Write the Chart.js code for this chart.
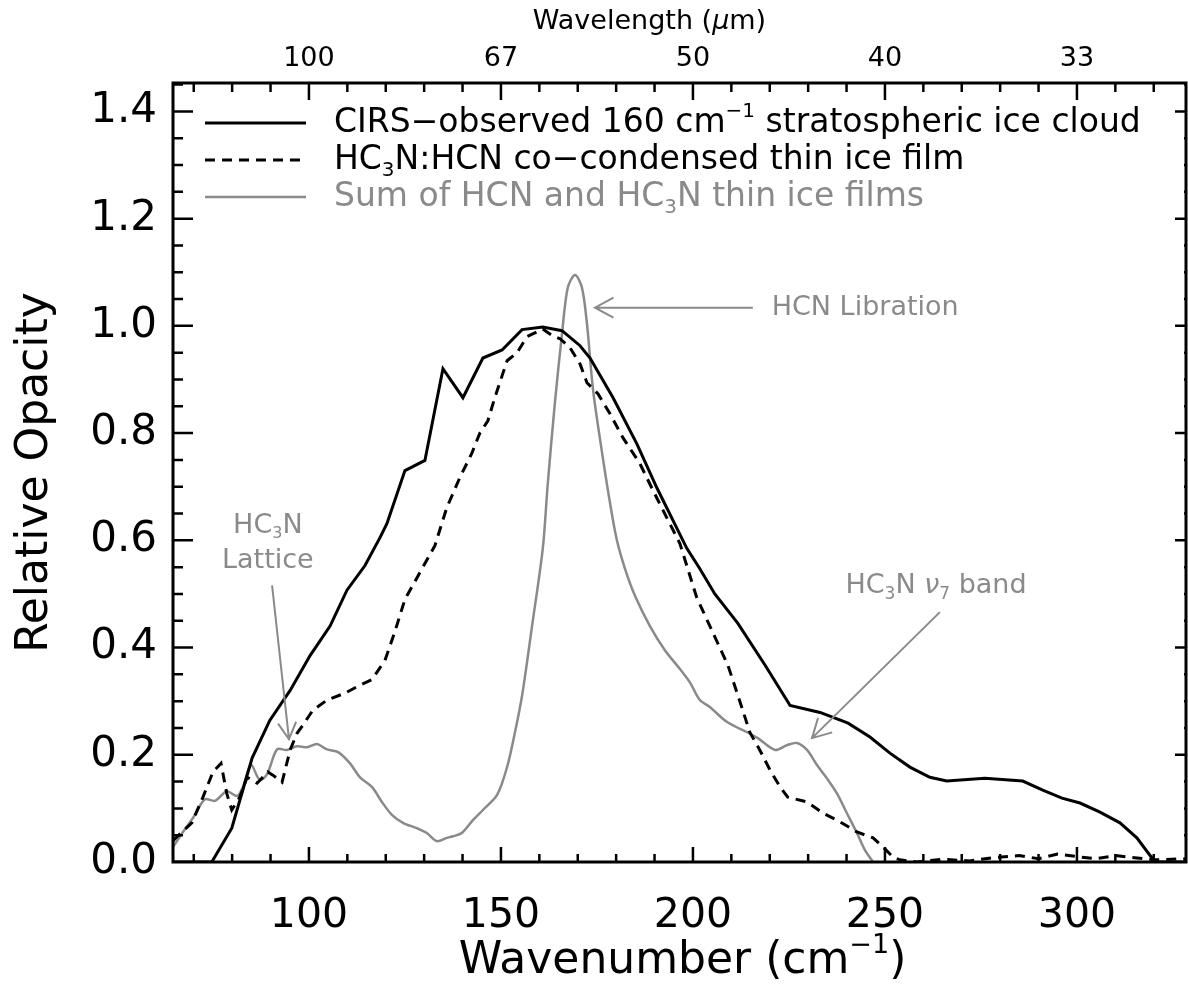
<!DOCTYPE html>
<html lang="en">
<head>
<meta charset="UTF-8">
<title>Relative Opacity - Titan stratospheric ice cloud</title>
<script src="https://cdn.jsdelivr.net/npm/chart.js"></script>
<style>
  html, body { margin: 0; padding: 0; background: #fff; }
  #wrap { width: 1188px; height: 998px; }
</style>
</head>
<body>
<div id="wrap"><canvas id="chart" width="1188" height="998"></canvas></div>
<script>
// CIRS-observed 160 cm-1 stratospheric ice cloud (solid black)
const cirsWn  = [64.6, 74.7, 79.9, 85.2, 89.8, 95.1, 100.3, 105.5, 109.9, 114.6, 118.5, 120.3, 125.0, 130.2, 134.9, 140.1, 145.3, 150.3, 155.5, 160.9, 165.9, 170.6, 173.2, 179.2, 185.4, 190.6, 198.4, 201.8, 205.7, 211.7, 218.8, 225.3, 233.1, 240.4, 246.1, 251.3, 256.5, 261.7, 266.1, 276.0, 285.9, 291.1, 296.1, 300.8, 306.0, 311.2, 315.6, 320.3, 328.4];
const cirsVal = [0, 0, 0.063, 0.194, 0.264, 0.32, 0.385, 0.44, 0.507, 0.553, 0.605, 0.631, 0.730, 0.749, 0.920, 0.866, 0.940, 0.955, 0.993, 0.998, 0.991, 0.963, 0.940, 0.866, 0.780, 0.698, 0.585, 0.547, 0.50, 0.445, 0.367, 0.292, 0.279, 0.259, 0.233, 0.203, 0.177, 0.158, 0.151, 0.156, 0.151, 0.134, 0.119, 0.110, 0.093, 0.073, 0.045, 0.0, 0.0];

// HC3N:HCN co-condensed thin ice film (dashed black)
const filmWn  = [64.6, 69.5, 72.4, 75.0, 77.1, 78.6, 79.9, 82.0, 83.9, 86.5, 89.3, 90.6, 93.0, 95.1, 96.9, 98.4, 101.0, 104.7, 109.4, 113.3, 116.4, 119.8, 122.4, 125.0, 128.9, 132.8, 135.9, 139.3, 142.4, 144.5, 146.6, 148.4, 151.6, 154.2, 156.8, 160.9, 163.5, 165.4, 168.0, 170.6, 172.4, 175.3, 178.4, 181.8, 186.2, 189.6, 193.2, 196.6, 201.0, 205.7, 209.1, 212.8, 214.8, 217.4, 220.1, 222.7, 224.7, 229.7, 233.9, 238.3, 242.7, 246.9, 249.5, 252.1, 253.9, 258.3, 265, 272, 278, 285, 290, 295, 300, 305, 310, 315, 320, 328.4];
const filmVal = [0.04, 0.073, 0.121, 0.168, 0.184, 0.128, 0.097, 0.121, 0.158, 0.147, 0.168, 0.162, 0.149, 0.209, 0.24, 0.255, 0.283, 0.302, 0.315, 0.33, 0.34, 0.376, 0.43, 0.49, 0.54, 0.59, 0.661, 0.717, 0.762, 0.80, 0.823, 0.866, 0.935, 0.95, 0.98, 0.994, 0.981, 0.976, 0.959, 0.929, 0.894, 0.873, 0.836, 0.791, 0.743, 0.693, 0.642, 0.594, 0.493, 0.42, 0.367, 0.287, 0.242, 0.209, 0.171, 0.14, 0.121, 0.112, 0.091, 0.075, 0.056, 0.045, 0.028, 0.009, 0.004, 0.0, 0.005, 0.002, 0.008, 0.012, 0.006, 0.015, 0.01, 0.006, 0.012, 0.008, 0.004, 0.006];

// Sum of HCN and HC3N thin ice films (gray)
const sumWn  = [64.6, 67.2, 69.8, 72.9, 75.5, 78.6, 81.3, 82.8, 84.9, 87.2, 89.1, 91.7, 94.3, 96.9, 99.5, 102.1, 104.7, 107.6, 110.7, 113.3, 116.4, 119.0, 121.6, 124.5, 128.1, 130.7, 133.3, 135.9, 137.5, 139.8, 142.7, 145.3, 149.0, 151.6, 153.6, 155.5, 158.1, 160.9, 162.2, 164.1, 165.9, 167.4, 169.3, 171.1, 172.4, 174.0, 176.3, 178.4, 180.2, 182.4, 185.0, 188.8, 192.7, 196.6, 199.2, 201.8, 204.4, 208.9, 214.1, 216.9, 221.4, 224.5, 227.1, 229.7, 232.3, 234.9, 237.5, 240.1, 242.7, 244.8, 246.9];
const sumVal = [0.028, 0.056, 0.082, 0.117, 0.114, 0.132, 0.123, 0.14, 0.181, 0.153, 0.164, 0.21, 0.209, 0.216, 0.214, 0.22, 0.21, 0.205, 0.184, 0.158, 0.14, 0.112, 0.088, 0.073, 0.063, 0.054, 0.039, 0.045, 0.048, 0.054, 0.078, 0.097, 0.125, 0.177, 0.24, 0.31, 0.44, 0.585, 0.706, 0.86, 0.985, 1.071, 1.095, 1.071, 1.004, 0.88, 0.765, 0.67, 0.60, 0.545, 0.495, 0.44, 0.395, 0.36, 0.335, 0.302, 0.289, 0.261, 0.242, 0.231, 0.209, 0.218, 0.222, 0.209, 0.181, 0.156, 0.128, 0.091, 0.054, 0.022, 0];

// axes
const xTicks = [100, 150, 200, 250, 300];
const topTickLabels = ['100', '67', '50', '40', '33'];
const yTicks = [0, 0.2, 0.4, 0.6, 0.8, 1.0, 1.2, 1.4];

const FONT = 'DejaVu Sans';
const GRAY = '#8a8a8a';

function pts(xs, ys) {
    return xs.map((x, i) => ({ x: x, y: ys[i] }));
}

// text with sub/superscripts and italics: parts = [[text, kind], ...]
function drawRich(ctx, parts, x, y, size, color, align) {
    const fontFor = k => (k === 'it' ? 'italic ' : '') +
        Math.round(k === 'sub' || k === 'sup' ? size * 0.62 : size) + 'px "' + FONT + '"';
    let w = 0;
    parts.forEach(([t, k]) => { ctx.font = fontFor(k); w += ctx.measureText(t).width; });
    let cx = align === 'center' ? x - w / 2 : (align === 'right' ? x - w : x);
    ctx.fillStyle = color;
    ctx.textAlign = 'left';
    ctx.textBaseline = 'middle';
    parts.forEach(([t, k]) => {
        ctx.font = fontFor(k);
        const dy = k === 'sub' ? size * 0.32 : (k === 'sup' ? -size * 0.36 : 0);
        ctx.fillText(t, cx, y + dy);
        cx += ctx.measureText(t).width;
    });
    return w;
}

function arrow(ctx, x0, y0, x1, y1, head, color) {
    const ang = Math.atan2(y1 - y0, x1 - x0);
    ctx.strokeStyle = color;
    ctx.lineWidth = 2;
    ctx.beginPath();
    ctx.moveTo(x0, y0);
    ctx.lineTo(x1, y1);
    const a = 0.5;
    ctx.moveTo(x1 - head * Math.cos(ang - a), y1 - head * Math.sin(ang - a));
    ctx.lineTo(x1, y1);
    ctx.lineTo(x1 - head * Math.cos(ang + a), y1 - head * Math.sin(ang + a));
    ctx.stroke();
}

const frame = {
    id: 'frame',
    afterDatasetsDraw(chart) {
        const { ctx, chartArea: a, scales } = chart;
        const sx = scales.x, sy = scales.y;
        ctx.save();

        // box
        ctx.strokeStyle = '#000';
        ctx.lineWidth = 3;
        ctx.strokeRect(a.left, a.top, a.right - a.left, a.bottom - a.top);

        // x ticks, every 10 cm-1, major every 50
        ctx.lineWidth = 2.5;
        ctx.beginPath();
        for (let v = 70; v <= 320; v += 10) {
            const px = sx.getPixelForValue(v);
            const major = v % 50 === 0;
            ctx.moveTo(px, a.bottom);
            ctx.lineTo(px, a.bottom - (major ? 15 : 8));
            ctx.moveTo(px, a.top);
            ctx.lineTo(px, a.top + (major ? 17 : 9));
        }
        // y ticks, every 0.05, major every 0.2
        for (let i = 1; i <= 29; i++) {
            const py = sy.getPixelForValue(i * 0.05);
            const major = i % 4 === 0;
            ctx.moveTo(a.left, py);
            ctx.lineTo(a.left + (major ? 20 : 10), py);
            ctx.moveTo(a.right, py);
            ctx.lineTo(a.right - (major ? 11 : 2), py);
        }
        ctx.stroke();

        // legend
        const rows = [
            { y: 123, color: '#000', dash: [], parts: [['CIRS\u2212observed 160 cm', ''], ['\u22121', 'sup'], [' stratospheric ice cloud', '']] },
            { y: 160, color: '#000', dash: [10, 7], parts: [['HC', ''], ['3', 'sub'], ['N:HCN co\u2212condensed thin ice film', '']] },
            { y: 197, color: GRAY, dash: [], parts: [['Sum of HCN and HC', ''], ['3', 'sub'], ['N thin ice films', '']] }
        ];
        rows.forEach(r => {
            ctx.strokeStyle = r.color;
            ctx.lineWidth = r.color === GRAY ? 2.5 : 3;
            ctx.setLineDash(r.dash);
            ctx.beginPath();
            ctx.moveTo(205, r.y);
            ctx.lineTo(306, r.y);
            ctx.stroke();
            ctx.setLineDash([]);
            drawRich(ctx, r.parts, 334, r.y, 32.5, r.color, 'left');
        });

        // annotations
        const X = v => sx.getPixelForValue(v), Y = v => sy.getPixelForValue(v);
        arrow(ctx, X(215.6), Y(1.034), X(174.5), Y(1.034), 21, GRAY);
        drawRich(ctx, [['HCN Libration', '']], X(220.5), Y(1.034), 26.5, GRAY, 'left');

        arrow(ctx, X(90.4), Y(0.516), X(94.8), Y(0.229), 19, GRAY);
        drawRich(ctx, [['HC', ''], ['3', 'sub'], ['N', '']], X(89.3), Y(0.627), 26.5, GRAY, 'center');
        drawRich(ctx, [['Lattice', '']], X(89.3), Y(0.562), 26.5, GRAY, 'center');

        arrow(ctx, X(264.3), Y(0.466), X(231.0), Y(0.231), 21, GRAY);
        drawRich(ctx, [['HC', ''], ['3', 'sub'], ['N ', ''], ['\u03bd', 'it'], ['7', 'sub'], [' band', '']], X(263.3), Y(0.515), 27, GRAY, 'center');

        // axis titles
        drawRich(ctx, [['Wavenumber (cm', ''], ['\u22121', 'sup'], [')', '']], (a.left + a.right) / 2 + 3, 962, 44, '#000', 'center');
        drawRich(ctx, [['Wavelength (', ''], ['\u03bc', 'it'], ['m)', '']], (a.left + a.right) / 2 - 30, 22, 26.5, '#000', 'center');
        ctx.translate(36, (a.top + a.bottom) / 2);
        ctx.rotate(-Math.PI / 2);
        drawRich(ctx, [['Relative Opacity', '']], 0, 0, 44, '#000', 'center');
        ctx.restore();
    }
};

new Chart(document.getElementById('chart'), {
    type: 'line',
    data: {
        datasets: [
            {
                label: 'Sum of HCN and HC3N thin ice films',
                data: pts(sumWn, sumVal),
                borderColor: GRAY,
                borderWidth: 2.5,
                pointRadius: 0,
                tension: 0.3,
                order: 3
            },
            {
                label: 'HC3N:HCN co-condensed thin ice film',
                data: pts(filmWn, filmVal),
                borderColor: '#000',
                borderWidth: 3,
                borderDash: [10, 7],
                pointRadius: 0,
                tension: 0,
                order: 2
            },
            {
                label: 'CIRS-observed 160 cm-1 stratospheric ice cloud',
                data: pts(cirsWn, cirsVal),
                borderColor: '#000',
                borderWidth: 3,
                pointRadius: 0,
                tension: 0,
                order: 1
            }
        ]
    },
    options: {
        responsive: false,
        animation: false,
        devicePixelRatio: 1,
        layout: { padding: 0 },
        plugins: { legend: { display: false }, tooltip: { enabled: false } },
        scales: {
            x: {
                type: 'linear',
                position: 'bottom',
                min: 64.6,
                max: 328.4,
                afterBuildTicks: s => { s.ticks = xTicks.map(v => ({ value: v })); },
                afterFit: s => { s.height = 136; },
                grid: { display: false, drawTicks: false },
                border: { display: false },
                ticks: { color: '#000', padding: 30, maxRotation: 0, autoSkip: false,
                         font: { family: FONT, size: 41 } }
            },
            x2: {
                type: 'linear',
                position: 'top',
                min: 64.6,
                max: 328.4,
                afterBuildTicks: s => { s.ticks = xTicks.map(v => ({ value: v })); },
                afterFit: s => { s.height = 83; },
                grid: { display: false, drawTicks: false },
                border: { display: false },
                ticks: { color: '#000', padding: 8, maxRotation: 0, autoSkip: false,
                         font: { family: FONT, size: 27 },
                         callback: (v) => topTickLabels[xTicks.indexOf(v)] }
            },
            y: {
                position: 'left',
                min: 0,
                max: 1.453,
                afterBuildTicks: s => { s.ticks = yTicks.map(v => ({ value: v })); },
                afterFit: s => { s.width = 173; },
                grid: { display: false, drawTicks: false },
                border: { display: false },
                ticks: { color: '#000', padding: 16, autoSkip: false,
                         font: { family: FONT, size: 42 },
                         callback: v => v.toFixed(1) }
            },
            y2: {
                position: 'right',
                min: 0,
                max: 1.453,
                afterFit: s => { s.width = 2; },
                grid: { display: false, drawTicks: false },
                border: { display: false },
                ticks: { display: false }
            }
        }
    },
    plugins: [frame]
});
</script>
</body>
</html>
